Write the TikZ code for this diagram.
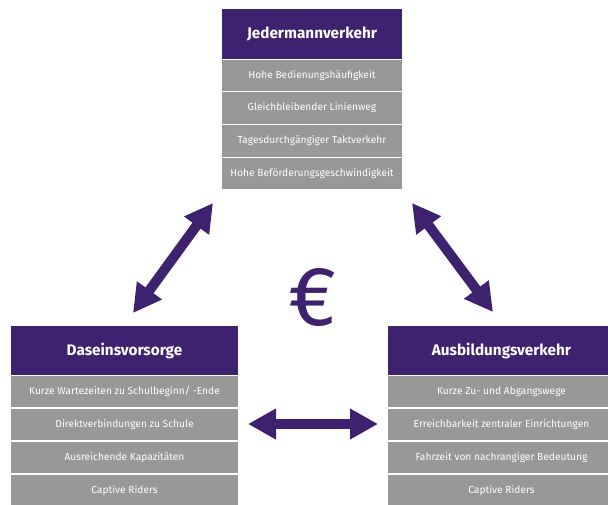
\documentclass[tikz,border=0pt]{standalone}
\usepackage{fontspec}
\setmainfont{Fira Sans}
\usepackage{xcolor}
\usetikzlibrary{arrows.meta}
\definecolor{lila}{RGB}{62,34,112}
\definecolor{grau}{RGB}{152,152,152}

\begin{document}
\begin{tikzpicture}[x=1pt,y=-1pt]
\tikzstyle{every node}+=[inner sep=0pt]
\tikzstyle{kopf}=[fill=lila, text=white, minimum height=49pt, font=\fontsize{15.3}{17}\selectfont\bfseries]
\tikzstyle{zeile}=[fill=grau, text=white, minimum height=31.75pt, font=\fontsize{10.2}{12}\selectfont]
\tikzstyle{pfeil}=[lila, line width=10pt, {Triangle[length=28pt,width=29pt]}-{Triangle[length=28pt,width=29pt]}]
\useasboundingbox (0,0) rectangle (608,504);
\fill [white] (0,0) rectangle (608,504);
% Jedermannverkehr
\node [kopf, minimum width=180pt, minimum height=50pt] (jed) at (312,34) {Jedermannverkehr};
\node [zeile, minimum width=180pt] (jed1) at (312,75.4) {Hohe Bedienungshäufigkeit};
\node [zeile, minimum width=180pt] (jed2) at (312,108.1) {Gleichbleibender Linienweg};
\node [zeile, minimum width=180pt] (jed3) at (312,140.9) {Tagesdurchgängiger Taktverkehr};
\node [zeile, minimum width=180pt] (jed4) at (312,173.6) {Hohe Beförderungsgeschwindigkeit};
% Daseinsvorsorge
\node [kopf, minimum width=227pt] (das) at (124.5,350.5) {Daseinsvorsorge};
\node [zeile, minimum width=227pt] (das1) at (124.5,391.5) {Kurze Wartezeiten zu Schulbeginn/ -Ende};
\node [zeile, minimum width=227pt] (das2) at (124.5,424.5) {Direktverbindungen zu Schule};
\node [zeile, minimum width=227pt] (das3) at (124.5,457.5) {Ausreichende Kapazitäten};
\node [zeile, minimum width=227pt] (das4) at (124.5,490.5) {Captive Riders};
% Ausbildungsverkehr
\node [kopf, minimum width=227pt] (aus) at (501.5,350.5) {Ausbildungsverkehr};
\node [zeile, minimum width=227pt] (aus1) at (501.5,391.5) {Kurze Zu- und Abgangswege};
\node [zeile, minimum width=227pt] (aus2) at (501.5,424.5) {Erreichbarkeit zentraler Einrichtungen};
\node [zeile, minimum width=227pt] (aus3) at (501.5,457.5) {Fahrzeit von nachrangiger Bedeutung};
\node [zeile, minimum width=227pt] (aus4) at (501.5,490.5) {Captive Riders};
% Euro
\node [text=lila, font=\fontsize{84}{84}\selectfont\addfontfeatures{FakeBold=-0.1}] (euro) at (313,297.5) {€};
% Pfeile
\coordinate (pl1) at (133,313);
\coordinate (pl2) at (213,203);
\coordinate (pr1) at (412,203);
\coordinate (pr2) at (493,312);
\coordinate (ph1) at (248,424);
\coordinate (ph2) at (378,424);
\draw [pfeil] (pl1) -- (pl2);
\draw [pfeil] (pr1) -- (pr2);
\draw [pfeil] (ph1) -- (ph2);
\end{tikzpicture}
\end{document}
